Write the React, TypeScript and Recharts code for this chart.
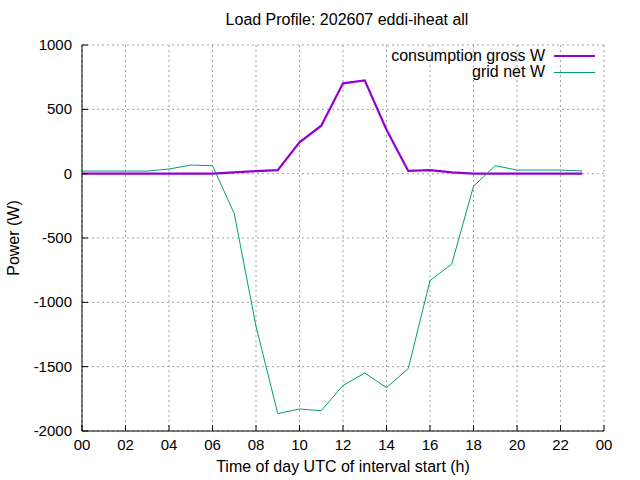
import { LineChart, Line, XAxis, YAxis, CartesianGrid, Legend } from 'recharts'

const hours = [0, 1, 2, 3, 4, 5, 6, 7, 8, 9, 10, 11, 12, 13, 14, 15, 16, 17, 18, 19, 20, 21, 22, 23]
const consumptionGross = [0, 0, 0, 0, 0, 0, 0, 10, 20, 28, 243, 373, 702, 725, 342, 21, 28, 10, 0, 0, 0, 0, 0, 0]
const gridNet = [20, 20, 20, 20, 36, 67, 62, -311, -1186, -1865, -1829, -1842, -1647, -1549, -1663, -1515, -831, -702, -98, 62, 28, 28, 28, 21]
const xTicks = [0, 2, 4, 6, 8, 10, 12, 14, 16, 18, 20, 22, 24]
const yTicks = [-2000, -1500, -1000, -500, 0, 500, 1000]

const data = hours.map((h, i) => ({ hour: h, consumption: consumptionGross[i], grid: gridNet[i] }))

const FONT = '"Liberation Sans", Arial, sans-serif'
const TICK_LEN = 6

const pad2 = (v: number) => String(v % 24).padStart(2, '0')

const BottomTick = ({ x, y, payload }: any) => (
  <g>
    <line x1={x} x2={x} y1={y} y2={y - TICK_LEN} stroke="#000" />
    <text x={x} y={y + 19} textAnchor="middle" fontSize={15} fontFamily={FONT} fill="#000">
      {pad2(payload.value)}
    </text>
  </g>
)

const TopTick = ({ x, y }: any) => <line x1={x} x2={x} y1={y} y2={y + TICK_LEN} stroke="#000" />

const LeftTick = ({ x, y, payload }: any) => (
  <g>
    <line x1={x} x2={x + TICK_LEN} y1={y} y2={y} stroke="#000" />
    <text x={x - 10} y={y + 5} textAnchor="end" fontSize={15} fontFamily={FONT} fill="#000">
      {payload.value}
    </text>
  </g>
)

const RightTick = ({ x, y }: any) => <line x1={x} x2={x - TICK_LEN} y1={y} y2={y} stroke="#000" />

const renderLegend = ({ payload }: any) => (
  <div style={{ fontFamily: FONT, fontSize: 16, lineHeight: '16px' }}>
    {payload?.map((p: any) => (
      <div key={p.value} style={{ display: 'flex', justifyContent: 'flex-end', alignItems: 'center', height: 16 }}>
        <span>{p.value}</span>
        <span style={{ display: 'inline-block', width: 41, marginLeft: 9, borderTop: `${p.value.startsWith('consumption') ? 2 : 1}px solid ${p.color}` }} />
      </div>
    ))}
  </div>
)

export default function App() {
  return (
    <div style={{ position: 'absolute', left: 0, top: 0, width: 640, height: 480, background: '#fff' }}>
      <div style={{ position: 'absolute', left: 0, width: 694, top: 11, textAlign: 'center', fontFamily: FONT, fontSize: 16 }}>
        Load Profile: 202607 eddi-iheat all
      </div>
      <div
        style={{
          position: 'absolute', left: 14, top: 238, transform: 'translate(-50%, -50%) rotate(-90deg)',
          fontFamily: FONT, fontSize: 16, whiteSpace: 'nowrap',
        }}
      >
        Power (W)
      </div>
      <LineChart width={640} height={480} data={data} margin={{ top: 45, right: 36, bottom: 0, left: 0 }}>
        <CartesianGrid stroke="#a0a0a0" strokeDasharray="2 3" />
        <XAxis
          dataKey="hour" type="number" domain={[0, 24]} ticks={xTicks} interval={0}
          height={49} tickSize={0} tickMargin={0} tickLine={false} tick={<BottomTick />}
          axisLine={{ stroke: '#000' }}
          label={{ value: 'Time of day UTC of interval start (h)', position: 'insideBottom', offset: 8, fontSize: 16, fontFamily: FONT, fill: '#000' }}
        />
        <XAxis
          xAxisId="top" orientation="top" type="number" domain={[0, 24]} ticks={xTicks} interval={0}
          height={0} tickSize={0} tickMargin={0} tickLine={false} tick={<TopTick />} axisLine={{ stroke: '#000' }}
        />
        <YAxis
          type="number" domain={[-2000, 1000]} ticks={yTicks} interval={0}
          width={82} tickSize={0} tickMargin={0} tickLine={false} tick={<LeftTick />} axisLine={{ stroke: '#000' }}
        />
        <YAxis
          yAxisId="right" orientation="right" type="number" domain={[-2000, 1000]} ticks={yTicks} interval={0}
          width={0} tickSize={0} tickMargin={0} tickLine={false} tick={<RightTick />} axisLine={{ stroke: '#000' }}
        />
        <Legend
          layout="vertical" align="center" verticalAlign="middle" content={renderLegend}
          wrapperStyle={{ left: 300, top: 48, width: 295 }}
        />
        <Line
          dataKey="consumption" name="consumption gross W" stroke="#9400d3" strokeWidth={2.2}
          dot={false} isAnimationActive={false}
        />
        <Line
          dataKey="grid" name="grid net W" stroke="#009e73" strokeWidth={1}
          dot={false} isAnimationActive={false}
        />
      </LineChart>
    </div>
  )
}
